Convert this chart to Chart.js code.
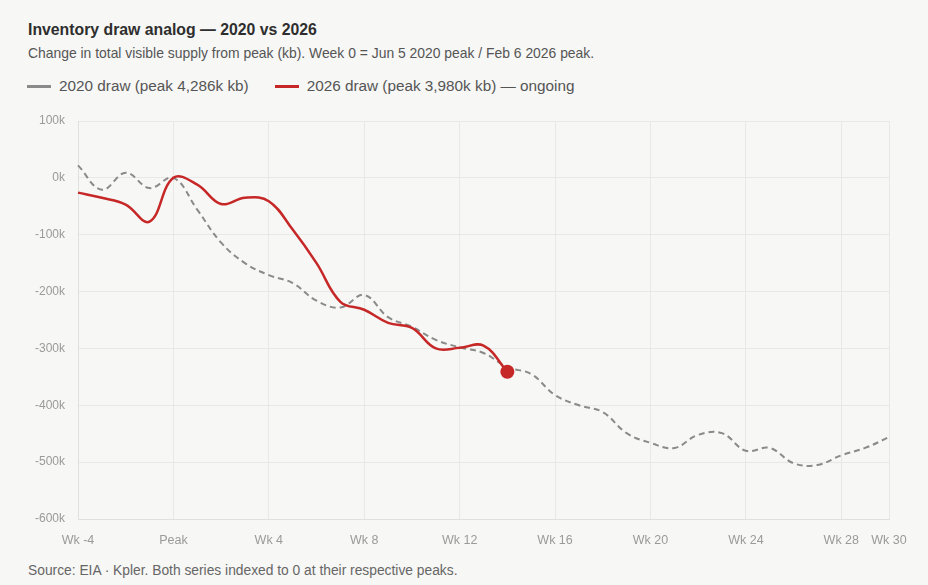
<!DOCTYPE html>
<html>
<head>
<meta charset="utf-8">
<script src="https://cdn.jsdelivr.net/npm/chart.js@4.4.1/dist/chart.umd.min.js"></script>
<style>
    html, body { margin: 0; padding: 0; }
    body {
        width: 928px; height: 585px; overflow: hidden; position: relative;
        background: #f7f7f5; font-family: 'Liberation Sans', Arial, sans-serif; color: #333;
    }
    .title { position: absolute; left: 28px; top: 21px; font-size: 15.8px; font-weight: bold; color: #2e2e2e; }
    .subtitle { position: absolute; left: 28px; top: 45px; font-size: 13.9px; color: #555; }
    .legend { position: absolute; left: 27px; top: 77px; font-size: 15.3px; color: #555; display: flex; align-items: center; }
    .legend .swatch { display: inline-block; width: 24px; height: 3px; margin-right: 8px; }
    .legend .item { display: flex; align-items: center; margin-right: 26px; }
    .source { position: absolute; left: 28px; top: 563px; font-size: 13.8px; color: #666; }
    .chart-box { position: absolute; left: 0; top: 100px; width: 928px; height: 460px; }
</style>
</head>
<body>
<div class="title">Inventory draw analog — 2020 vs 2026</div>
<div class="subtitle">Change in total visible supply from peak (kb). Week 0 = Jun 5 2020 peak / Feb 6 2026 peak.</div>
<div class="legend">
    <span class="item"><span class="swatch" style="background:#8a8a8a"></span>2020 draw (peak 4,286k kb)</span>
    <span class="item"><span class="swatch" style="background:#c62828"></span>2026 draw (peak 3,980k kb) — ongoing</span>
</div>
<div class="chart-box"><canvas id="analogChart"></canvas></div>
<div class="source">Source: EIA · Kpler. Both series indexed to 0 at their respective peaks.</div>

<script>
// weeks relative to peak, -4 .. 30
const weeks = [-4, -3, -2, -1, 0, 1, 2, 3, 4, 5, 6, 7, 8, 9, 10, 11, 12, 13, 14, 15, 16,
    17, 18, 19, 20, 21, 22, 23, 24, 25, 26, 27, 28, 29, 30];

// change from peak, thousand barrels
const draw2020 = [22, -21, 9, -18, 0, -56, -114, -150, -171, -185, -216, -228, -206, -245, -262,
    -285, -298, -308, -333, -345, -382, -400, -412, -449, -466, -475, -452, -449, -480, -475,
    -502, -505, -488, -475, -456];
const draw2026 = [-26, -35, -47, -77, 0, -12, -46, -35, -41, -91, -150, -218, -232, -255, -264,
    -300, -299, -295, -341];

const yTicks = [100, 0, -100, -200, -300, -400, -500, -600];

function weekLabel(w) {
    if (w === 0) return 'Peak';
    if (w % 4 === 0 || w === 30) return 'Wk ' + w;
    return null;
}

const lastIdx = draw2026.length - 1;

new Chart(document.getElementById('analogChart'), {
    type: 'line',
    data: {
        labels: weeks,
        datasets: [
            {
                label: '2026 draw',
                data: draw2026,
                borderColor: '#c62828',
                backgroundColor: '#c62828',
                borderWidth: 2.5,
                tension: 0.4,
                pointRadius: draw2026.map((v, i) => i === lastIdx ? 7 : 0),
                pointBorderWidth: 0
            },
            {
                label: '2020 draw',
                data: draw2020,
                borderColor: '#8a8a8a',
                borderWidth: 2,
                borderDash: [6, 4],
                tension: 0.4,
                pointRadius: 0
            }
        ]
    },
    options: {
        responsive: true,
        maintainAspectRatio: false,
        animation: false,
        layout: { padding: { top: 21, right: 39, left: 0, bottom: 0 } },
        plugins: { legend: { display: false }, tooltip: { enabled: false } },
        scales: {
            x: {
                grid: { color: '#e8e8e6', drawTicks: false },
                border: { color: '#e0e0de' },
                ticks: {
                    autoSkip: false, maxRotation: 0, padding: 14,
                    color: '#9a9a9a', font: { family: 'Liberation Sans', size: 12.5 },
                    callback: function (val) { return weekLabel(weeks[val]); }
                },
                afterFit: function (s) { s.height = 41; }
            },
            y: {
                min: -600, max: 100,
                afterBuildTicks: function (s) { s.ticks = yTicks.map(v => ({ value: v })); },
                grid: { color: '#e8e8e6', drawTicks: false },
                border: { color: '#e0e0de' },
                ticks: {
                    padding: 13,
                    color: '#9a9a9a', font: { family: 'Liberation Sans', size: 12 },
                    callback: function (v) { return v + 'k'; }
                },
                afterFit: function (s) { s.width = 78; }
            }
        }
    }
});
</script>
</body>
</html>
